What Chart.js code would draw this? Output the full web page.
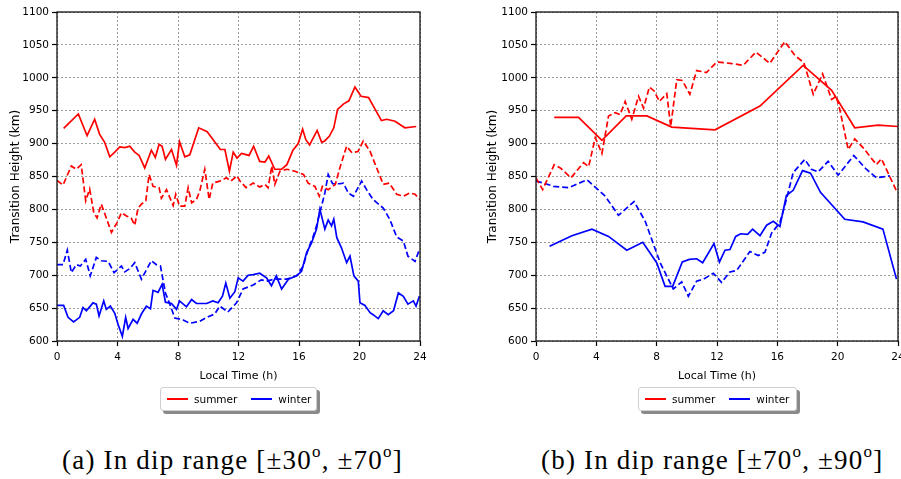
<!DOCTYPE html>
<html>
<head>
<meta charset="utf-8">
<script src="https://cdn.jsdelivr.net/npm/chart.js@4/dist/chart.umd.min.js"></script>
<style>
  html, body { margin:0; padding:0; background:#fff; width:901px; height:479px; overflow:hidden; position:relative; }
  canvas { position:absolute; }
  .legend { position:absolute; height:24px; background:#fff; border:1px solid #cfcfcf; border-radius:3px;
            box-shadow:3px 3px 0 #8a8a8a; font-family:'DejaVu Sans', sans-serif; font-size:10.5px; color:#000;
            display:flex; align-items:center; box-sizing:border-box; }
  .legend .sw { display:inline-block; width:21px; height:0; border-top:2px solid; margin:0 6px 0 6px; }
  .legend .gap { width:8px; }
  .cap { position:absolute; font-family:'Liberation Serif', 'DejaVu Serif', serif; font-size:27px; letter-spacing:1.2px; color:#000; white-space:nowrap; }
  .cap sup { font-size:17px; vertical-align:top; position:relative; top:-3px; }
</style>
</head>
<body>
<canvas id="cA" width="450" height="392" style="left:0;top:0"></canvas>
<canvas id="cB" width="470" height="392" style="left:450px;top:0"></canvas>

<div class="legend" style="left:160px;top:387px;width:157px;">
  <span class="sw" style="border-color:#ff0000"></span><span>summer</span><span class="gap"></span>
  <span class="sw" style="border-color:#0000ff"></span><span>winter</span>
</div>
<div class="legend" style="left:638px;top:387px;width:159px;">
  <span class="sw" style="border-color:#ff0000"></span><span>summer</span><span class="gap"></span>
  <span class="sw" style="border-color:#0000ff"></span><span>winter</span>
</div>

<div class="cap" id="capA" style="left:62px;top:445px;">(a) In dip range [±30<sup>o</sup>, ±70<sup>o</sup>]</div>
<div class="cap" id="capB" style="left:541px;top:445px;">(b) In dip range [±70<sup>o</sup>, ±90<sup>o</sup>]</div>

<script>
// ---------- Axis ticks ----------
const xTicks = [0, 4, 8, 12, 16, 20, 24];
const yTicks = [600, 650, 700, 750, 800, 850, 900, 950, 1000, 1050, 1100];
const seriesNames = ['summer', 'winter'];

// ---------- Panel (a): dip range ±30°..±70° ----------
const aSummerSolidX = [0.44,1.41,1.99,2.49,2.82,3.15,3.49,3.82,4.15,4.48,4.81,5.14,5.43,5.8,6.24,6.5,6.75,6.95,7.17,7.57,7.9,8.1,8.45,8.78,9.37,9.93,10.8,11.1,11.4,11.65,11.9,12.2,12.7,13.0,13.4,13.75,14.0,14.4,14.85,15.2,15.6,15.95,16.24,16.45,16.7,17.2,17.5,17.7,18.0,18.3,18.55,18.93,19.3,19.7,20.1,20.6,21.45,21.8,22.35,23.0,23.75];
const aSummerSolidY = [923,945,912,937,914,902,880,887,895,894,896,887,882,863,890,879,899,896,876,891,867,903,880,883,924,918,891,891,858,887,878,885,882,896,873,872,881,861,861,868,890,900,922,906,898,920,902,904,911,924,952,960,965,986,972,970,935,937,934,924,926];

const aSummerDashX = [0,0.4,0.95,1.28,1.6,1.9,2.16,2.43,2.65,2.93,3.26,3.6,3.97,4.26,4.59,4.9,5.14,5.36,5.58,5.87,6.09,6.35,6.75,6.9,7.24,7.68,7.85,8.1,8.45,8.67,8.9,9.22,9.44,9.77,10.06,10.3,10.76,11.2,11.5,11.9,12.1,12.5,12.97,13.4,13.75,13.96,14.2,14.4,14.74,15.2,15.73,16.3,16.6,17.05,17.34,17.55,17.93,18.4,18.7,19.15,19.5,19.9,20.25,20.7,21.57,21.97,22.46,22.9,23.34,23.67,24];
const aSummerDashY = [844,837,866,861,868,813,831,795,787,808,787,765,780,795,790,787,776,802,808,813,853,835,833,817,830,806,823,805,805,833,810,815,828,861,815,840,843,848,843,851,843,833,840,834,838,833,866,838,858,861,858,853,840,835,820,835,830,838,863,896,886,888,904,888,838,840,823,820,825,823,815];

const aWinterSolidX = [0,0.44,0.73,1.1,1.5,1.72,1.94,2.38,2.6,2.78,3.09,3.26,3.53,3.82,4.04,4.32,4.54,4.7,5.03,5.3,5.58,5.91,6.18,6.35,6.68,6.95,7.17,7.57,7.9,8.1,8.56,8.9,9.22,9.9,10.3,10.65,10.94,11.16,11.43,11.76,11.98,12.3,12.64,12.97,13.4,13.85,14.18,14.5,14.85,15.3,15.84,16.17,16.5,16.83,17.16,17.38,17.71,17.93,18.15,18.3,18.5,18.8,19.15,19.37,19.63,19.92,20.03,20.36,20.7,20.9,21.24,21.57,21.9,22.25,22.57,22.9,23.2,23.56,23.74,23.96];
const aWinterSolidY = [654,654,636,629,636,651,646,658,656,638,661,648,653,642,625,607,636,619,633,627,641,653,649,677,674,686,659,657,648,661,652,663,657,657,661,658,668,688,665,675,696,691,700,701,703,696,684,699,679,694,699,706,734,749,770,800,770,784,775,785,757,742,719,729,699,691,658,654,643,640,634,646,640,646,673,668,656,661,653,668];

const aWinterDashX = [0,0.4,0.68,0.95,1.28,1.54,1.9,2.2,2.6,2.93,3.38,3.77,4.26,4.48,4.81,5.14,5.58,6.24,6.57,6.84,7.17,7.46,7.79,8.34,8.78,9.44,10.0,10.43,10.76,11.3,11.87,12.3,12.97,13.5,13.85,14.4,15.18,15.84,16.28,16.6,16.94,17.16,17.38,17.71,17.93,18.22,18.7,18.93,19.26,19.6,20.14,20.47,20.9,21.57,22.0,22.46,22.9,23.2,23.67,23.96];
const aWinterDashY = [716,716,738,704,716,714,724,699,727,722,721,704,714,705,710,719,694,722,716,714,673,656,635,632,627,630,637,641,653,644,658,679,685,693,691,694,694,699,714,739,759,775,795,825,853,839,839,840,825,820,843,830,815,802,785,758,752,729,721,739];

// ---------- Panel (b): dip range ±70°..±90° ----------
const bSummerSolidX = [1.21,2.82,4.37,5.98,7.35,9.0,11.87,14.85,17.71,19.6,21.13,22.68,24];
const bSummerSolidY = [940,940,905,942,942,925,921,957,1019,981,924,928,926];

const bSummerDashX = [0,0.44,1.21,1.61,2.32,3.15,3.49,3.93,4.37,4.81,5.25,5.58,5.91,6.35,6.8,7.13,7.52,7.83,8.18,8.67,8.93,9.33,9.7,10.2,10.65,11.3,11.98,12.86,13.74,14.58,15.5,16.5,17.16,17.76,18.38,19.0,19.6,19.9,20.14,20.7,21.13,21.68,22.57,22.9,23.9];
const bSummerDashY = [848,830,868,863,848,871,865,909,885,942,947,944,964,937,972,954,986,980,964,976,926,997,996,975,1011,1008,1024,1022,1019,1039,1022,1055,1034,1023,975,1006,967,972,952,891,907,894,868,877,828];

const bWinterSolidX = [0.9,2.38,3.71,4.81,6.02,7.08,8.0,8.56,9.06,9.7,10.17,10.65,11.05,11.8,12.16,12.53,12.86,13.24,13.57,14.03,14.36,14.85,15.29,15.73,16.17,16.6,17.05,17.67,18.2,18.86,20.47,21.68,23.0,23.9];
const bWinterSolidY = [744,760,770,759,738,750,719,683,683,720,724,725,719,748,720,738,739,759,763,762,770,760,776,782,774,821,829,859,855,826,785,781,770,694];

const bWinterDashX = [0,0.5,1.17,2.16,3.38,4.59,5.47,6.5,7.24,8.23,9.1,9.66,10.1,10.65,11.1,11.76,12.3,12.86,13.3,14.18,14.74,15.18,15.62,16.17,16.6,17.05,17.82,18.26,18.7,19.37,20.03,21.07,21.9,22.57,23.46];
const bWinterDashY = [843,840,835,833,845,820,791,812,782,719,679,690,668,691,694,703,689,705,707,736,730,735,764,780,815,856,876,861,857,873,852,882,861,848,851];

// ---------- helpers ----------
const RED = '#ff0000', BLUE = '#0000ff';
function pts(xs, ys) { return xs.map((x, i) => ({x: x, y: ys[i]})); }
function ds(label, xs, ys, color, dashed) {
  return { label: label, data: pts(xs, ys), borderColor: color, backgroundColor: color,
           borderWidth: 1.7, borderDash: dashed ? [6, 3] : [], pointRadius: 0, tension: 0, fill: false };
}

const framePlugin = {
  id: 'frame',
  afterDatasetsDraw(chart) {
    const a = chart.chartArea, c = chart.ctx;
    c.save(); c.strokeStyle = '#111'; c.lineWidth = 1.3; c.setLineDash([]);
    c.strokeRect(a.left, a.top, a.right - a.left, a.bottom - a.top);
    c.restore();
  }
};

function makeChart(id, yAxisWidth, rightPad, yTitlePad, sets) {
  return new Chart(document.getElementById(id), {
    type: 'line',
    data: { datasets: sets },
    options: {
      responsive: false, animation: false, events: [],
      layout: { padding: { top: 12, right: rightPad, left: 0, bottom: 0 } },
      plugins: { legend: { display: false }, tooltip: { enabled: false } },
      scales: {
        x: {
          type: 'linear', min: 0, max: 24,
          afterBuildTicks: s => { s.ticks = xTicks.map(v => ({value: v})); },
          afterFit: s => { s.height = 51; },
          grid: { color: '#9a9a9a', lineWidth: 1, tickLength: 5, tickColor: '#000', tickWidth: 1.2, tickBorderDash: [] },
          border: { display: false, dash: [2, 2] },
          ticks: { color: '#000', padding: 5, maxRotation: 0, callback: v => String(v),
                   font: { family: 'DejaVu Sans', size: 10.5 } },
          title: { display: true, text: 'Local Time (h)', color: '#000', padding: { top: 0, bottom: 9 },
                   font: { family: 'DejaVu Sans', size: 11 } }
        },
        y: {
          type: 'linear', min: 600, max: 1100,
          afterBuildTicks: s => { s.ticks = yTicks.map(v => ({value: v})); },
          afterFit: s => { s.width = yAxisWidth; },
          grid: { color: '#9a9a9a', lineWidth: 1, tickLength: 5, tickColor: '#000', tickWidth: 1.2, tickBorderDash: [] },
          border: { display: false, dash: [2, 2] },
          ticks: { color: '#000', padding: 3, callback: v => String(v),
                   font: { family: 'DejaVu Sans', size: 10.5 } },
          title: { display: true, text: 'Transition Height (km)', color: '#000', padding: { top: yTitlePad, bottom: 0 },
                   font: { family: 'DejaVu Sans', size: 12 } }
        }
      }
    },
    plugins: [framePlugin]
  });
}

makeChart('cA', 57, 30, 9, [
  ds(seriesNames[0], aSummerSolidX, aSummerSolidY, RED, false),
  ds(seriesNames[0], aSummerDashX, aSummerDashY, RED, true),
  ds(seriesNames[1], aWinterSolidX, aWinterSolidY, BLUE, false),
  ds(seriesNames[1], aWinterDashX, aWinterDashY, BLUE, true)
]);
makeChart('cB', 86, 22, 36, [
  ds(seriesNames[0], bSummerSolidX, bSummerSolidY, RED, false),
  ds(seriesNames[0], bSummerDashX, bSummerDashY, RED, true),
  ds(seriesNames[1], bWinterSolidX, bWinterSolidY, BLUE, false),
  ds(seriesNames[1], bWinterDashX, bWinterDashY, BLUE, true)
]);
</script>
</body>
</html>
